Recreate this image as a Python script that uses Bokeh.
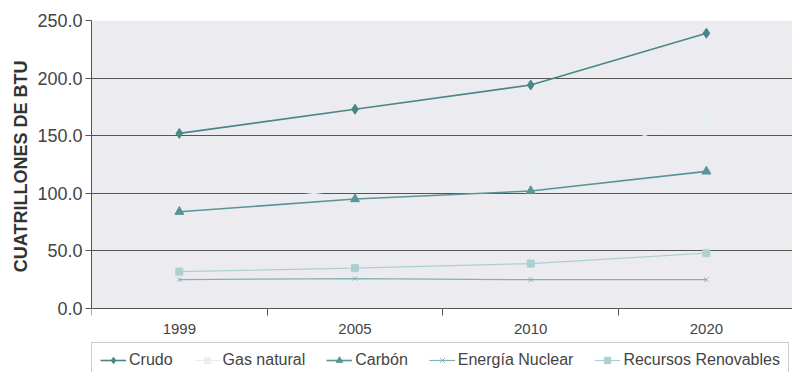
from bokeh.plotting import figure
from bokeh.models import (BoxAnnotation, FixedTicker, Legend, LegendItem,
                          NumeralTickFormatter, Range1d, Title)
from bokeh.embed import file_html
from bokeh.resources import INLINE
import numpy as np

years = ["1999", "2005", "2010", "2020"]
crudo = [152, 173, 194, 239]
gas_natural = [86, 104, 121, 166]
carbon = [84, 95, 102, 119]
nuclear = [25, 26, 25, 25]
renovables = [32, 35, 39, 48]
y_ticks = [0, 50, 100, 150, 200, 250]

x = np.arange(len(years)) + 0.5

# The frame runs to the bottom of the page so the legend can sit under the axis;
# the value range is stretched below zero by the same amount of pixels.
plot_px, below_px = 288, 64
y_top = 250
y_bottom = -y_top * below_px / plot_px

p = figure(frame_width=701, frame_height=plot_px + below_px, output_backend="svg",
           toolbar_location=None, x_range=Range1d(0, 3.99),
           y_range=Range1d(y_bottom, y_top),
           min_border_left=91, min_border_right=0, min_border_top=20,
           min_border_bottom=0, background_fill_color="white",
           border_fill_color="white", outline_line_color=None)

# shaded plotting area between 0 and the top value, beneath the grid
p.add_layout(BoxAnnotation(bottom=0, top=y_top, fill_color="#ececf0", fill_alpha=1,
                           line_color=None, level="image"))

font = "Liberation Sans"

# x axis drawn at zero: labels centred in each category, tick marks on the boundaries
p.xaxis.fixed_location = 0
p.xaxis.ticker = FixedTicker(ticks=list(x), minor_ticks=list(range(len(years) + 1)))
p.xaxis.major_label_overrides = {float(v): y for v, y in zip(x, years)}
p.xaxis.major_tick_out = 0
p.xaxis.major_tick_in = 0
p.xaxis.minor_tick_out = 7
p.xaxis.minor_tick_in = 0
p.xaxis.minor_tick_line_color = "#555555"
p.xaxis.axis_line_color = "#555555"
p.xaxis.major_label_text_font = font
p.xaxis.major_label_text_font_size = "15px"
p.xaxis.major_label_text_color = "#444444"
p.xaxis.major_label_standoff = 8

p.yaxis.bounds = (0, y_top)
p.yaxis.ticker = FixedTicker(ticks=y_ticks)
p.yaxis.formatter = NumeralTickFormatter(format="0.0")
p.yaxis.major_tick_out = 6
p.yaxis.major_tick_in = 0
p.yaxis.minor_tick_line_color = None
p.yaxis.axis_line_color = "#555555"
p.yaxis.major_tick_line_color = "#555555"
p.yaxis.major_label_text_font = font
p.yaxis.major_label_text_font_size = "18px"
p.yaxis.major_label_text_color = "#444444"
p.yaxis.major_label_standoff = 3

# value-axis title, anchored from the top so it stays centred on the shaded area
p.add_layout(Title(text="CUATRILLONES DE BTU", align="right", offset=40,
                   text_font=font, text_font_size="18px", text_font_style="bold",
                   text_color="#333333", standoff=8), "left")

p.xgrid.grid_line_color = None
p.ygrid.grid_line_color = "#555555"
p.ygrid.grid_line_width = 1.2

series = [
    ("Crudo", crudo, "#4a8686", "diamond", 10, 1.6),
    ("Gas natural", gas_natural, "#e6f0f2", "square", 7, 1.2),
    ("Carbón", carbon, "#5a9596", "triangle", 9, 1.6),
    ("Energía Nuclear", nuclear, "#80b3b4", "x", 6, 1.2),
    ("Recursos Renovables", renovables, "#acd0d2", "square", 7, 1.2),
]

items = []
for name, vals, color, marker, size, lw in series:
    ln = p.line(x, vals, line_color=color, line_width=lw)
    mk = p.scatter(x, vals, marker=marker, size=size, fill_color=color,
                   line_color=color)
    items.append(LegendItem(label=name, renderers=[ln, mk]))

legend = Legend(items=items, orientation="horizontal", location=(0, -6),
                label_text_font=font, label_text_font_size="16px",
                label_text_color="#444444", glyph_width=26, glyph_height=16,
                spacing=21, padding=8, margin=0,
                border_line_color="#9a9a9a", border_line_width=1,
                background_fill_color="white", label_standoff=3)
p.add_layout(legend, "center")

open("out.html", "w").write(file_html(p, INLINE))
